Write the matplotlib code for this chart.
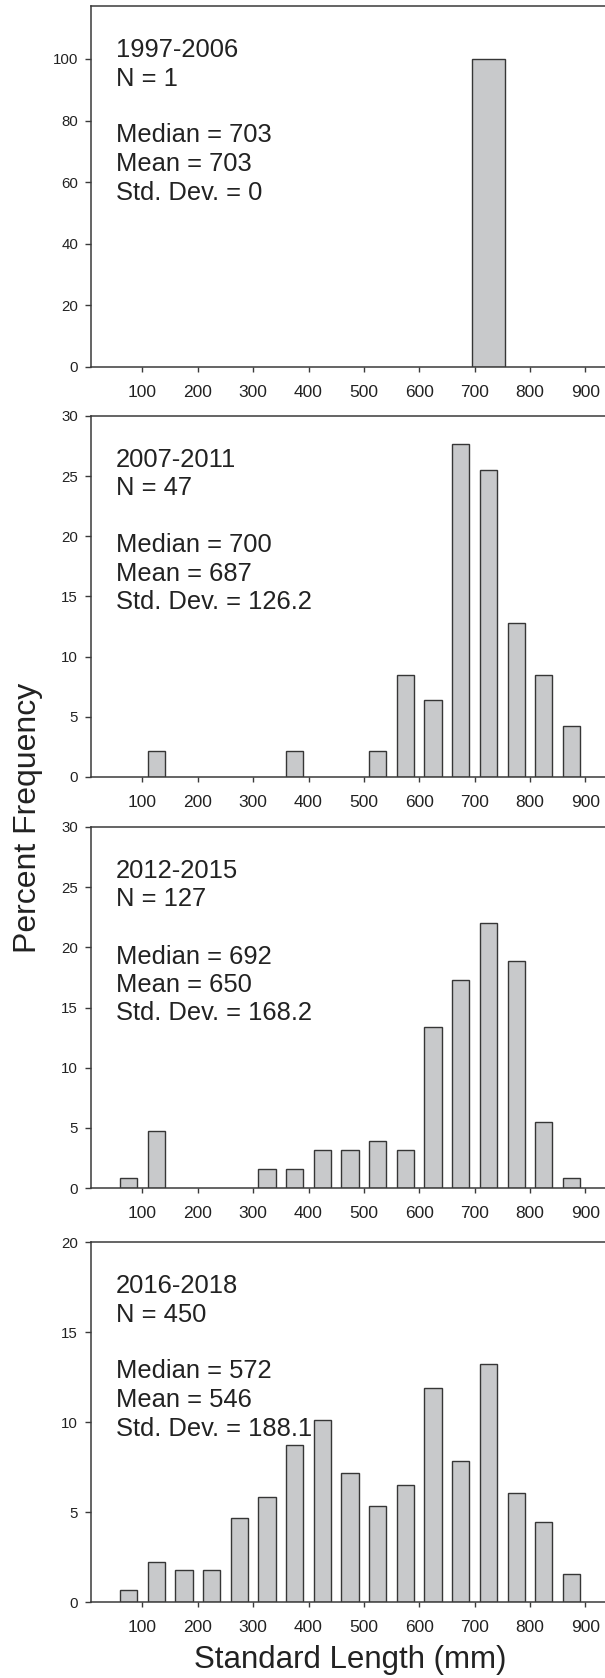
import matplotlib
matplotlib.use("Agg")
import matplotlib.pyplot as plt
from matplotlib.transforms import offset_copy

plt.rcParams['font.family'] = ['Liberation Sans', 'DejaVu Sans']

# ---- data ----
bin_centers = [75, 125, 175, 225, 275, 325, 375, 425, 475, 525, 575, 625, 675, 725, 775, 825, 875]
tick_values = [100, 200, 300, 400, 500, 600, 700, 800, 900]

p1_centers = [725]
p1_pct = [100.0]

p2_pct = [0, 2.13, 0, 0, 0, 0, 2.13, 0, 0, 2.13, 8.51, 6.38, 27.66, 25.53, 12.77, 8.51, 4.26]
p3_pct = [0.79, 4.72, 0, 0, 0, 1.57, 1.57, 3.15, 3.15, 3.94, 3.15, 13.39, 17.32, 22.05, 18.90, 5.51, 0.79]
p4_pct = [0.67, 2.22, 1.78, 1.78, 4.67, 5.84, 8.74, 10.09, 7.15, 5.33, 6.51, 11.87, 7.84, 13.22, 6.04, 4.47, 1.56]

labels = [
    ["1997-2006", "N = 1", "", "Median = 703", "Mean = 703", "Std. Dev. = 0"],
    ["2007-2011", "N = 47", "", "Median = 700", "Mean = 687", "Std. Dev. = 126.2"],
    ["2012-2015", "N = 127", "", "Median = 692", "Mean = 650", "Std. Dev. = 168.2"],
    ["2016-2018", "N = 450", "", "Median = 572", "Mean = 546", "Std. Dev. = 188.1"],
]
ylims = [117.2, 30, 30, 20]
yticks = [[0, 20, 40, 60, 80, 100], [0, 5, 10, 15, 20, 25, 30], [0, 5, 10, 15, 20, 25, 30], [0, 5, 10, 15, 20]]

# ---- layout (pixels) ----
W, H = 605, 1678
fig = plt.figure(figsize=(W / 100, H / 100), dpi=100)
left_px = 91
px_per_unit = 0.5535
xmin, xmax = 7, 1000
width_px = (xmax - xmin) * px_per_unit
panels_px = [(6, 367), (416, 777), (827, 1188), (1242, 1602)]

bar_fc = '#c8c9cb'
bar_ec = '#363636'
spine_c = '#3a3a3a'
text_c = '#222222'

series = [(p1_centers, p1_pct, 60), (bin_centers, p2_pct, 31), (bin_centers, p3_pct, 31), (bin_centers, p4_pct, 31)]

for i, ((top, bot), (xs, ys, bw)) in enumerate(zip(panels_px, series)):
    ax = fig.add_axes([left_px / W, 1 - bot / H, width_px / W, (bot - top) / H])
    xs_nz = [x for x, y in zip(xs, ys) if y > 0]
    ys_nz = [y for y in ys if y > 0]
    ax.bar(xs_nz, ys_nz, width=bw, color=bar_fc, edgecolor=bar_ec, linewidth=1.0, zorder=2)
    ax.set_xlim(xmin, xmax)
    ax.set_ylim(0, ylims[i])
    ax.set_xticks(tick_values)
    ax.set_xticklabels([str(t) for t in tick_values], fontsize=12.5, color=text_c)
    ax.set_yticks(yticks[i])
    ax.set_yticklabels([str(t) for t in yticks[i]], fontsize=10.8, color=text_c)
    ax.tick_params(axis='x', direction='out', length=3.4, width=1.0, color=spine_c, pad=9.6)
    ax.tick_params(axis='y', direction='out', length=4.3, width=1.0, color=spine_c, pad=5)
    for s in ['left', 'bottom', 'top']:
        ax.spines[s].set_color(spine_c)
        ax.spines[s].set_linewidth(1.1)
    ax.spines['right'].set_visible(False)

    # annotation block
    x_frac = (116 - left_px) / width_px
    y_frac = 1 - 51 / (bot - top)
    for j, line in enumerate(labels[i]):
        if not line:
            continue
        tr = offset_copy(ax.transAxes, fig=fig, x=0, y=-j * 28.5 * 72 / 100, units='points')
        ax.text(x_frac, y_frac, line, transform=tr, fontsize=18.4, color=text_c,
                ha='left', va='baseline')

fig.text(28 / W, 1 - 818 / H, "Percent Frequency", rotation=90, ha='center', va='center',
         fontsize=23, color=text_c)
fig.text(350 / W, 1 - 1660 / H, "Standard Length (mm)", ha='center', va='center',
         fontsize=22.5, color=text_c)

fig.savefig("out.png", dpi=100)
